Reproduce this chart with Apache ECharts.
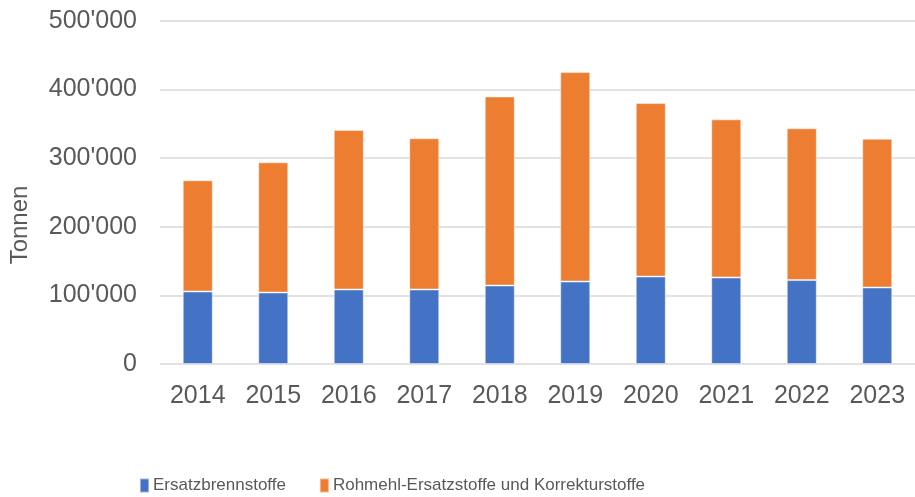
<!DOCTYPE html>
<html>
<head>
<meta charset="utf-8">
<script src="https://cdn.jsdelivr.net/npm/echarts@6/dist/echarts.min.js"></script>
<style>
  html, body { margin: 0; padding: 0; background: #fff; }
  #chart-container { width: 915px; height: 497px; }
</style>
</head>
<body>
<div id="chart-container"></div>
<script>
  const years = ['2014', '2015', '2016', '2017', '2018', '2019', '2020', '2021', '2022', '2023'];
  const ersatzbrennstoffe = [105700, 104200, 108600, 108600, 114400, 120200, 127500, 126100, 122300, 111500];
  const rohmehlErsatzstoffe = [162100, 189800, 232400, 220400, 275600, 305300, 252800, 230500, 221200, 216900];
  const seriesNames = ['Ersatzbrennstoffe', 'Rohmehl-Ersatzstoffe und Korrekturstoffe'];

  const textColor = '#595959';
  const font = 'Liberation Sans, Arial, sans-serif';

  const fmt = (v) => String(v).replace(/\B(?=(\d{3})+(?!\d))/g, "'");

  const chart = echarts.init(document.getElementById('chart-container'), null, { renderer: 'canvas' });

  const option = {
    animation: false,
    grid: { left: 159, right: 0, top: 21, bottom: 133 },
    legend: {
      left: 139,
      top: 477,
      padding: 0,
      itemWidth: 9,
      itemHeight: 14,
      itemGap: 33,
      icon: 'rect',
      textStyle: { color: textColor, fontFamily: font, fontSize: 17, padding: [0, 0, 0, -1] },
      data: seriesNames
    },
    xAxis: {
      type: 'category',
      data: years,
      axisLine: { show: false },
      axisTick: { show: false },
      axisLabel: { color: textColor, fontFamily: font, fontSize: 25, margin: 20 }
    },
    yAxis: {
      type: 'value',
      min: 0,
      max: 500000,
      interval: 100000,
      name: 'Tonnen',
      nameLocation: 'middle',
      nameGap: 128,
      nameRotate: 90,
      nameTextStyle: { color: textColor, fontFamily: font, fontSize: 24, padding: [0, 65, 0, 0] },
      axisLine: { show: false },
      axisTick: { show: false },
      splitLine: { lineStyle: { color: '#d9d9d9', width: 1.5 } },
      axisLabel: { color: textColor, fontFamily: font, fontSize: 25, margin: 23, formatter: fmt }
    },
    series: [
      {
        name: seriesNames[0],
        type: 'bar',
        stack: 'total',
        barWidth: 30,
        data: ersatzbrennstoffe,
        itemStyle: { color: '#4472C4', borderColor: 'rgba(255,255,255,0.45)', borderWidth: 1 }
      },
      {
        name: seriesNames[1],
        type: 'bar',
        stack: 'total',
        barWidth: 30,
        data: rohmehlErsatzstoffe,
        itemStyle: { color: '#ED7D31', borderColor: 'rgba(255,255,255,0.45)', borderWidth: 1 }
      }
    ]
  };

  chart.setOption(option);
</script>
</body>
</html>
